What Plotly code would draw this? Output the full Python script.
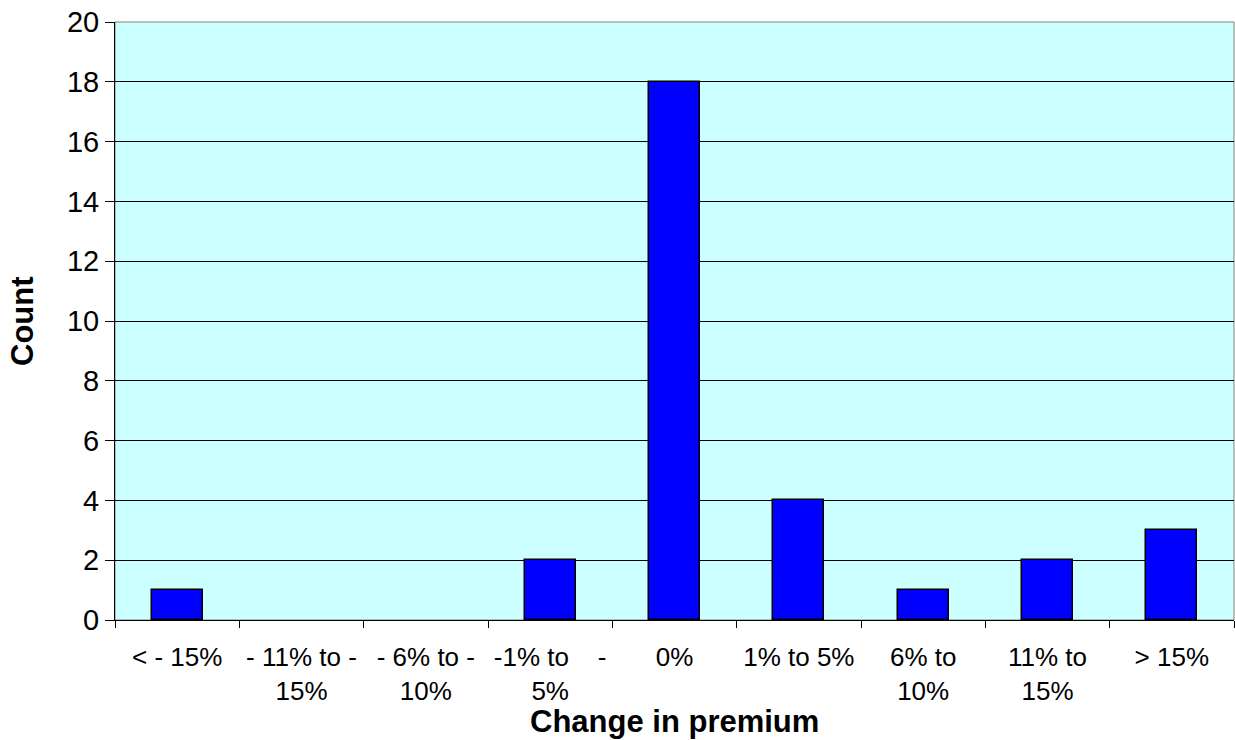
import plotly.graph_objects as go

categories = ["< - 15%", "- 11% to -<br>15%", "- 6% to -<br>10%",
              "-1% to&nbsp;&nbsp;&nbsp;&nbsp;-<br>5%", "0%", "1% to 5%",
              "6% to<br>10%", "11% to<br>15%", "> 15%"]
counts = [1, 0, 0, 2, 18, 4, 1, 2, 3]
y_ticks = list(range(0, 21, 2))
x_title = "Change in premium"
y_title = "Count"

W, H = 1235, 740
L, R, T, B = 115, 1, 22, 120
plot_w, plot_h = W - L - R, H - T - B

fig = go.Figure()
fig.add_trace(go.Bar(
    x=categories, y=counts, width=0.41,
    marker=dict(color="#0000FF",
                line=dict(color="black", width=[1.5 if c > 0 else 0 for c in counts])),
))

fig.update_layout(
    width=W, height=H,
    margin=dict(l=L, r=R, t=T, b=B),
    paper_bgcolor="white", plot_bgcolor="#CCFFFF",
    font=dict(family="Liberation Sans, Arial, sans-serif", size=26, color="black"),
    showlegend=False,
    bargap=0,
)
fig.update_xaxes(
    type="category", tickson="boundaries", ticks="outside", ticklen=7,
    tickcolor="black", showline=True, linecolor="black", linewidth=1,
    showgrid=False, automargin=False, tickangle=0, ticklabelstandoff=14,
    tickfont=dict(size=26),
)
fig.update_yaxes(
    range=[0, 20], tickvals=y_ticks, ticks="outside", ticklen=9,
    tickcolor="black", showline=True, linecolor="black", linewidth=1,
    showgrid=True, gridcolor="black", gridwidth=1, zeroline=False,
    automargin=False,
    tickfont=dict(size=29),
)
fig.add_shape(type="rect", xref="paper", yref="paper", x0=0, x1=1, y0=0, y1=1,
              line=dict(color="#808080", width=1), layer="below")
fig.add_annotation(text="<b>%s</b>" % x_title, xref="paper", yref="paper",
                   x=0.5, y=-(741 - (H - B)) / plot_h, xanchor="center", yanchor="bottom",
                   showarrow=False, font=dict(size=31))
fig.add_annotation(text="<b>%s</b>" % y_title, xref="paper", yref="paper",
                   x=-(L - 22) / plot_w, y=0.5, xanchor="center", yanchor="middle",
                   textangle=-90, showarrow=False, font=dict(size=31))

fig.write_html("out.html")
